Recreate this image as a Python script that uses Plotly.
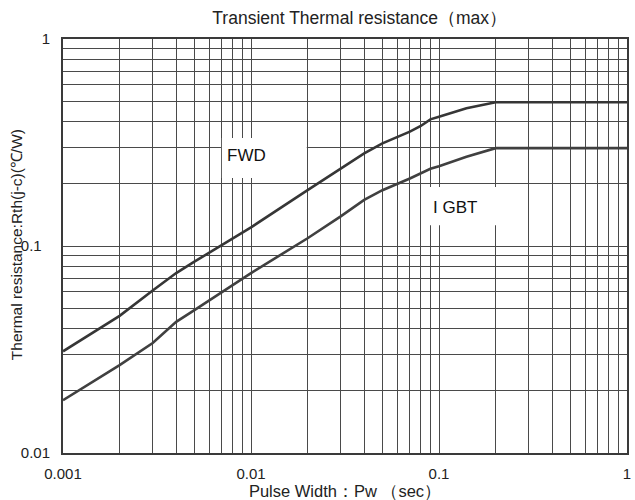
import plotly.graph_objects as go

# Data
pulse_width = [0.001, 0.002, 0.003, 0.004, 0.005, 0.007, 0.01, 0.02, 0.03, 0.04,
               0.05, 0.07, 0.08, 0.09, 0.1, 0.14, 0.2, 1.0]
fwd = [0.031, 0.046, 0.061, 0.074, 0.084, 0.101, 0.123, 0.186, 0.237, 0.280,
       0.313, 0.357, 0.380, 0.409, 0.421, 0.463, 0.495, 0.495]
igbt = [0.018, 0.0266, 0.034, 0.043, 0.049, 0.060, 0.074, 0.109, 0.139, 0.167,
        0.186, 0.212, 0.225, 0.236, 0.243, 0.270, 0.297, 0.297]

x_tick_vals = [0.001, 0.01, 0.1, 1]
x_tick_text = ["0.001", "0.01", "0.1", "1"]
y_tick_vals = [0.01, 0.1, 1]
y_tick_text = ["0.01", "0.1\u00a0\u00a0", "1"]

series_labels = ["FWD", "I GBT"]

FONT = "Liberation Sans, Arial, sans-serif"
TXT = "#222222"
GRID = "#4a4a4a"
LINE = "#363636"

fig = go.Figure()
fig.add_trace(go.Scatter(x=pulse_width, y=fwd, mode="lines", name=series_labels[0],
                         line=dict(color=LINE, width=2.6)))
fig.add_trace(go.Scatter(x=pulse_width, y=igbt, mode="lines", name=series_labels[1],
                         line=dict(color="#404040", width=2.6)))

# white label boxes (cover gridlines)
fig.add_shape(type="rect", xref="x", yref="y", x0=0.007, x1=0.0198, y0=0.213, y1=0.332,
              fillcolor="white", line=dict(width=0), layer="between")
fig.add_shape(type="rect", xref="x", yref="y", x0=0.085, x1=0.28, y0=0.126, y1=0.193,
              fillcolor="white", line=dict(width=0), layer="between")

# annotation positions on log axes are given in log10 units
fig.add_annotation(x=-2.022, y=-0.565, xref="x", yref="y", text=series_labels[0],
                   showarrow=False, font=dict(family=FONT, size=17, color="#111"),
                   xanchor="center", yanchor="middle")
fig.add_annotation(x=-0.915, y=-0.816, xref="x", yref="y", text=series_labels[1],
                   showarrow=False, font=dict(family=FONT, size=17, color="#111"),
                   xanchor="center", yanchor="middle")

# y-axis title placed as rotated text
fig.add_annotation(x=-0.0833, y=0.502, xref="paper", yref="paper",
                   text="Thermal resistance:Rth(j-c)(℃/W)", textangle=-90,
                   showarrow=False, font=dict(family=FONT, size=15.5, color=TXT),
                   xanchor="center", yanchor="middle")

axis_common = dict(
    type="log", showgrid=True, gridcolor=GRID, gridwidth=1,
    minor=dict(dtick="D1", showgrid=True, gridcolor=GRID, gridwidth=1, ticks=""),
    showline=True, mirror=True, linecolor="#3a3a3a", linewidth=2,
    ticks="", tickfont=dict(family=FONT, size=15, color=TXT),
    zeroline=False, automargin=False,
)

fig.update_layout(
    width=635, height=500,
    margin=dict(l=63, r=8, t=39, b=47, autoexpand=False),
    paper_bgcolor="white", plot_bgcolor="white",
    showlegend=False,
    font=dict(family=FONT, color=TXT),
    title=dict(text="Transient Thermal resistance（max）", x=0.526, xref="paper",
               y=1 - 18 / 500, yref="container", xanchor="center", yanchor="middle",
               font=dict(family=FONT, size=17.5, color=TXT)),
    xaxis=dict(axis_common, range=[-3, 0], tickvals=x_tick_vals, ticktext=x_tick_text,
               ticklabelstandoff=6,
               title=dict(text="Pulse Width：Pw （sec）", standoff=7,
                          font=dict(family=FONT, size=16.5, color=TXT))),
    yaxis=dict(axis_common, range=[-2, 0], tickvals=y_tick_vals, ticktext=y_tick_text,
               ticklabelstandoff=8),
)

fig.write_html("out.html")
